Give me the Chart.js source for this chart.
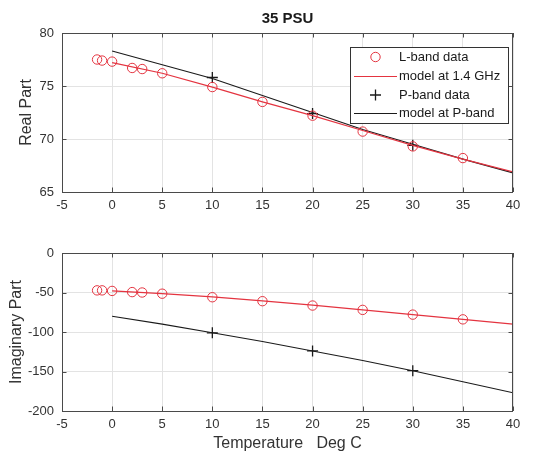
<!DOCTYPE html>
<html><head><meta charset="utf-8">
<script src="https://cdn.jsdelivr.net/npm/chart.js@4/dist/chart.umd.min.js"></script>
<style>
html,body{margin:0;padding:0;background:#fff;}
#wrap{position:relative;width:554px;height:457px;overflow:hidden;}
#c1{position:absolute;left:0;top:0;}
#c2{position:absolute;left:0;top:225px;}
</style></head><body>
<div id="wrap"><canvas id="c1" width="554" height="225"></canvas><canvas id="c2" width="554" height="232"></canvas></div>
<script>
const chartTitle = '35 PSU';
const xTitle = 'Temperature   Deg C';
const yTitleReal = 'Real Part';
const yTitleImag = 'Imaginary Part';
const legendLabels = ['L-band data', 'model at 1.4 GHz', 'P-band data', 'model at P-band'];

const lbandTemps = [-1.5, -1, 0, 2, 3, 5, 10, 15, 20, 25, 30, 35];
const lbandReal  = [77.5, 77.4, 77.3, 76.7, 76.6, 76.2, 74.9, 73.5, 72.2, 70.7, 69.3, 68.2];
const lbandImag  = [-47.3, -47.3, -48, -49.5, -50, -51.5, -56, -61, -66.5, -72, -78, -84];

const modelTemps = [0, 5, 10, 15, 20, 25, 30, 35, 40];
const modelLReal = [77.2, 76.2, 74.9, 73.5, 72.2, 70.8, 69.4, 68.1, 66.9];
const modelLImag = [-48, -51.5, -55.5, -60.5, -66, -72, -78, -84, -90];
const modelPReal = [78.3, 77.0, 75.7, 74.1, 72.5, 70.9, 69.5, 68.1, 66.8];
const modelPImag = [-80, -90, -101, -112, -124, -136, -149, -163, -177];

const pbandTemps = [10, 20, 30];
const pbandReal  = [75.8, 72.4, 69.4];
const pbandImag  = [-101, -124, -149];

const xTickValues = [-5, 0, 5, 10, 15, 20, 25, 30, 35, 40];
const realTickValues = [65, 70, 75, 80];
const imagTickValues = [-200, -150, -100, -50, 0];

const RED = 'rgb(228,52,64)';
const BLACK = '#1a1a1a';
const FONT = "'Liberation Sans', Arial, sans-serif";
const TEXT = '#333';

function pts(xs, ys) { return xs.map((x, i) => ({x: x, y: ys[i]})); }

function datasets(lData, lModel, pData, pModel) {
  return [
    {label: legendLabels[0], data: pts(lbandTemps, lData), showLine: false, pointStyle: 'circle',
     pointRadius: 4.7, pointBorderWidth: 1, borderColor: RED, backgroundColor: 'rgba(0,0,0,0)', pointBackgroundColor: 'rgba(0,0,0,0)'},
    {label: legendLabels[1], data: pts(modelTemps, lModel), showLine: true, pointRadius: 0,
     borderColor: RED, borderWidth: 1.2, fill: false, tension: 0},
    {label: legendLabels[2], data: pts(pbandTemps, pData), showLine: false, pointStyle: 'cross',
     pointRadius: 5.5, pointBorderWidth: 1.3, borderColor: BLACK, backgroundColor: BLACK},
    {label: legendLabels[3], data: pts(modelTemps, pModel), showLine: true, pointRadius: 0,
     borderColor: BLACK, borderWidth: 1.1, fill: false, tension: 0}
  ];
}

const framePlugin = {
  id: 'frame',
  afterDatasetsDraw(chart) {
    const {ctx, chartArea: a, scales} = chart;
    ctx.save();
    ctx.strokeStyle = '#4a4a4a';
    ctx.lineWidth = 1;
    ctx.strokeRect(Math.round(a.left) + 0.5, Math.round(a.top) + 0.5, Math.round(a.right - a.left) - 1, Math.round(a.bottom - a.top));
    const tl = 4.5;
    ctx.beginPath();
    scales.x.ticks.forEach(t => {
      const px = Math.round(scales.x.getPixelForValue(t.value)) + 0.5;
      ctx.moveTo(px, a.bottom); ctx.lineTo(px, a.bottom - tl);
      ctx.moveTo(px, a.top); ctx.lineTo(px, a.top + tl);
    });
    scales.y.ticks.forEach(t => {
      const py = Math.round(scales.y.getPixelForValue(t.value)) + 0.5;
      ctx.moveTo(a.left, py); ctx.lineTo(a.left + tl, py);
      ctx.moveTo(a.right, py); ctx.lineTo(a.right - tl, py);
    });
    ctx.stroke();
    ctx.restore();
  }
};

const titlePlugin = {
  id: 'axTitle',
  afterDraw(chart) {
    const {ctx, chartArea: a} = chart;
    ctx.save();
    ctx.font = 'bold 15px ' + FONT;
    ctx.fillStyle = '#1a1a1a';
    ctx.textAlign = 'center';
    ctx.textBaseline = 'middle';
    ctx.fillText(chartTitle, (a.left + a.right) / 2, 19);
    ctx.restore();
  }
};

const legendPlugin = {
  id: 'inLegend',
  afterDraw(chart) {
    const {ctx} = chart;
    const ds = chart.data.datasets;
    const bx = 350, by = 47, bw = 158, bh = 76;
    ctx.save();
    ctx.fillStyle = '#fff';
    ctx.fillRect(bx, by, bw, bh);
    ctx.strokeStyle = '#333';
    ctx.lineWidth = 1;
    ctx.strokeRect(bx + 0.5, by + 0.5, bw, bh);
    const rows = [57, 76, 95, 113];
    ctx.font = '13px ' + FONT;
    ctx.textBaseline = 'middle';
    ctx.textAlign = 'left';
    ds.forEach((d, i) => {
      const y = rows[i];
      ctx.strokeStyle = d.borderColor;
      if (d.showLine) {
        ctx.lineWidth = d.borderWidth;
        ctx.beginPath(); ctx.moveTo(354, y + 0.5); ctx.lineTo(397, y + 0.5); ctx.stroke();
      } else if (d.pointStyle === 'circle') {
        ctx.lineWidth = 1;
        ctx.beginPath(); ctx.arc(375.5, y, 4.7, 0, Math.PI * 2); ctx.stroke();
      } else {
        ctx.lineWidth = 1.3;
        ctx.beginPath();
        ctx.moveTo(370, y); ctx.lineTo(381, y);
        ctx.moveTo(375.5, y - 5.5); ctx.lineTo(375.5, y + 5.5);
        ctx.stroke();
      }
      ctx.fillStyle = '#1a1a1a';
      ctx.fillText(d.label, 399, y);
    });
    ctx.restore();
  }
};

function makeOptions(yMin, yMax, yTicks, yTitle, yTitlePad, xHeight, showXTitle, padTop) {
  return {
    responsive: false,
    animation: false,
    devicePixelRatio: 1,
    layout: {padding: {left: 0, right: 41, top: padTop, bottom: 0}},
    plugins: {legend: {display: false}, tooltip: {enabled: false}, title: {display: false}},
    scales: {
      x: {
        type: 'linear', min: -5, max: 40,
        afterBuildTicks: s => { s.ticks = xTickValues.map(v => ({value: v})); },
        afterFit: s => { s.height = xHeight; },
        grid: {color: '#e3e3e3', drawTicks: false, lineWidth: 1},
        border: {display: false},
        ticks: {padding: 6, font: {family: FONT, size: 13}, color: TEXT, maxRotation: 0, autoSkip: false},
        title: {display: showXTitle, text: xTitle, font: {family: FONT, size: 16}, color: TEXT, padding: {top: 0, bottom: 4}}
      },
      y: {
        type: 'linear', min: yMin, max: yMax,
        afterBuildTicks: s => { s.ticks = yTicks.map(v => ({value: v})); },
        afterFit: s => { s.width = 62; },
        grid: {color: '#e3e3e3', drawTicks: false, lineWidth: 1},
        border: {display: false},
        ticks: {padding: 8, font: {family: FONT, size: 13}, color: TEXT, autoSkip: false},
        title: {display: true, text: yTitle, font: {family: FONT, size: 16}, color: TEXT, padding: {top: yTitlePad, bottom: 0}}
      }
    }
  };
}

new Chart(document.getElementById('c1'), {
  type: 'scatter',
  data: {datasets: datasets(lbandReal, modelLReal, pbandReal, modelPReal)},
  options: makeOptions(65, 80, realTickValues, yTitleReal, 17, 33, false, 33),
  plugins: [framePlugin, titlePlugin, legendPlugin]
});

new Chart(document.getElementById('c2'), {
  type: 'scatter',
  data: {datasets: datasets(lbandImag, modelLImag, pbandImag, modelPImag)},
  options: makeOptions(-200, 0, imagTickValues, yTitleImag, 7, 46, true, 28),
  plugins: [framePlugin]
});
</script>
</body></html>
